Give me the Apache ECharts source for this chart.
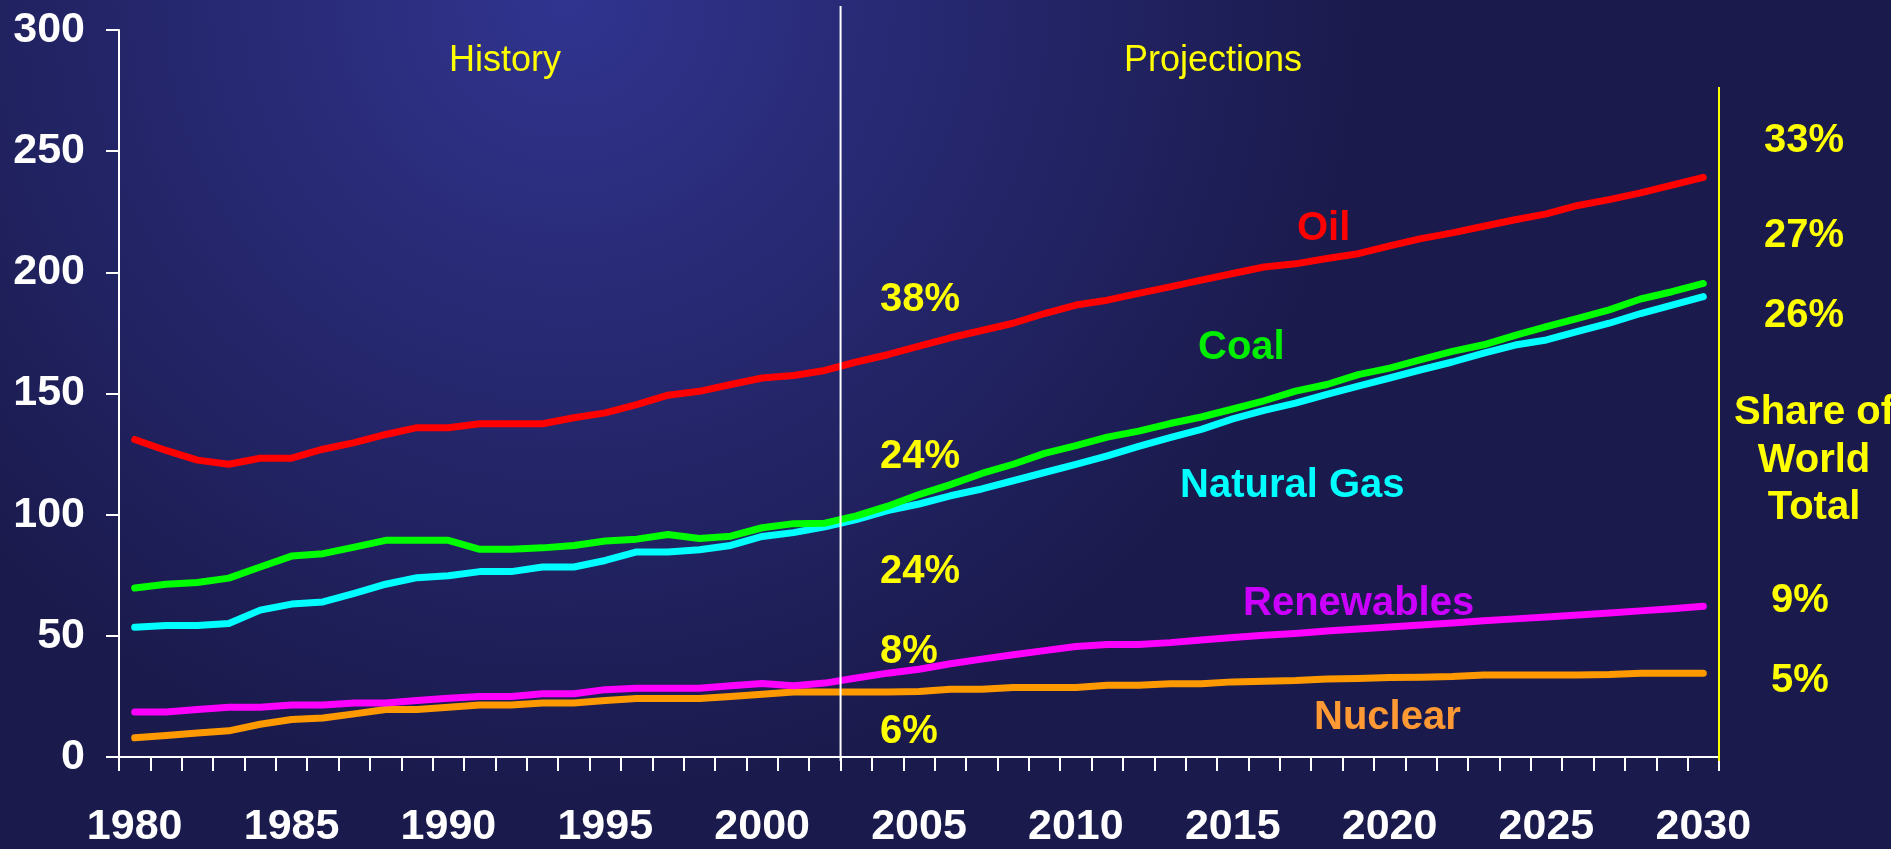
<!DOCTYPE html>
<html>
<head>
<meta charset="utf-8">
<style>
  html, body { margin: 0; padding: 0; }
  #main { width: 1891px; height: 849px; }
</style>
<script src="https://cdn.jsdelivr.net/npm/echarts@6/dist/echarts.min.js"></script>
</head>
<body>
<div id="main"></div>
<script>
// years 1980..2030
const years = []
for (let y = 1980; y <= 2030; y++) years.push(String(y))

const yTicks = [0, 50, 100, 150, 200, 250, 300]

// world energy consumption
const oil = [131, 126.5, 122.5, 120.8, 123.3, 123.3, 127, 129.7, 133.1, 135.9,
  135.9, 137.5, 137.5, 137.5, 140, 142, 145.4, 149.3, 150.9, 153.7,
  156.4, 157.4, 159.5, 163, 166, 169.5, 173, 176, 179, 183,
  186.5, 188.5, 191.3, 194, 196.8, 199.5, 202.2, 203.5, 205.7, 207.7,
  210.9, 213.9, 216.3, 219, 221.7, 224.1, 227.6, 230, 232.8, 236, 239.2]
const coal = [69.7, 71.3, 72, 73.8, 78.4, 82.9, 83.9, 86.6, 89.4, 89.4,
  89.4, 85.7, 85.7, 86.3, 87.3, 89.1, 89.9, 91.8, 90.2, 91.1,
  94.6, 96.3, 96.5, 99.5, 103.5, 108.3, 112.4, 117, 120.8, 125.3,
  128.5, 132, 134.5, 137.6, 140.3, 143.6, 147, 151, 153.7, 157.8,
  160.5, 164, 167.4, 170.1, 174, 177.6, 181, 184.5, 189, 192, 195.4]
const gas = [53.5, 54.3, 54.3, 55.1, 60.6, 63.1, 64, 67.5, 71.3, 74,
  74.8, 76.5, 76.5, 78.4, 78.4, 81.1, 84.6, 84.6, 85.5, 87.3,
  91, 92.6, 95, 98, 101.7, 104.4, 107.8, 110.6, 114, 117.4,
  120.8, 124.3, 128.2, 131.8, 135.2, 139.5, 143, 146, 149.6, 153,
  156.4, 159.8, 163, 166.7, 170, 172.1, 175.6, 179, 183, 186.5, 190]
const renewables = [18.6, 18.6, 19.6, 20.5, 20.5, 21.5, 21.5, 22.3, 22.3, 23.3,
  24.2, 25, 25, 26.1, 26.1, 27.8, 28.4, 28.4, 28.4, 29.4,
  30.3, 29.4, 30.5, 32.6, 34.6, 36.2, 38.5, 40.4, 42.2, 43.9,
  45.6, 46.4, 46.4, 47.2, 48.3, 49.3, 50.2, 51, 52, 52.8,
  53.6, 54.5, 55.3, 56.2, 57, 57.8, 58.6, 59.4, 60.3, 61.2, 62.2]
const nuclear = [7.9, 8.9, 9.9, 10.8, 13.5, 15.5, 16.1, 17.8, 19.6, 19.6,
  20.5, 21.5, 21.5, 22.3, 22.3, 23.3, 24.1, 24.1, 24.1, 25,
  25.9, 26.8, 26.8, 26.8, 26.8, 27, 28, 28, 28.7, 28.7,
  28.7, 29.6, 29.6, 30.2, 30.2, 31, 31.3, 31.6, 32.2, 32.4,
  32.8, 32.9, 33.2, 33.8, 33.8, 33.8, 33.8, 34, 34.6, 34.6, 34.6]

// shares of world total
const share2003 = ['38%', '24%', '24%', '8%', '6%']
const share2030 = ['33%', '27%', '26%', '9%', '5%']

const font = '"Liberation Sans", Arial, sans-serif'
const yellow = '#ffff00'

// plot area
const gLeft = 119, gTop = 30, gRight = 1719, gBottom = 761
const bandW = (gRight - gLeft) / years.length
const splitX = gLeft + bandW * years.indexOf('2003') // History | Projections

function txt(text, x, y, color, size, align, weight) {
  return {
    type: 'text', z: 20, x: x, y: y,
    style: {
      text: text, fill: color, textAlign: align || 'center', textVerticalAlign: 'middle',
      font: (weight || 'bold') + ' ' + size + 'px ' + font
    }
  }
}

function lineSeries(name, data, color) {
  return {
    name: name, type: 'line', data: data, symbol: 'none', smooth: false,
    lineStyle: { color: color, width: 7, cap: 'round', join: 'round' },
    emphasis: { disabled: true }
  }
}

var myChart = echarts.init(document.getElementById('main'))

var option = {
  backgroundColor: new echarts.graphic.RadialGradient(0.3, 0.0, 0.95, [
    { offset: 0, color: '#31348f' },
    { offset: 1, color: '#1a1a4c' }
  ]),
  animation: false,
  grid: { left: gLeft, top: gTop, right: 1891 - gRight, bottom: 849 - gBottom, containLabel: false },
  xAxis: {
    type: 'category', data: years, boundaryGap: true,
    axisLine: { lineStyle: { color: '#ffffff', width: 2 } },
    axisTick: { show: true, interval: 0, length: 14, lineStyle: { color: '#ffffff', width: 2 } },
    axisLabel: {
      interval: function (i) { return i % 5 === 0 },
      color: '#ffffff', fontFamily: font, fontWeight: 'bold', fontSize: 43, margin: 49
    }
  },
  yAxis: {
    type: 'value', min: yTicks[0], max: yTicks[yTicks.length - 1], interval: 50,
    axisLine: { show: true, lineStyle: { color: '#ffffff', width: 2 } },
    axisTick: { show: true, length: 13, lineStyle: { color: '#ffffff', width: 2 } },
    splitLine: { show: false },
    axisLabel: { color: '#ffffff', fontFamily: font, fontWeight: 'bold', fontSize: 43, margin: 34 }
  },
  series: [
    lineSeries('Nuclear', nuclear, '#ff9900'),
    lineSeries('Renewables', renewables, '#ff00ff'),
    lineSeries('Natural Gas', gas, '#00ffff'),
    lineSeries('Coal', coal, '#00ff00'),
    lineSeries('Oil', oil, '#ff0000')
  ],
  graphic: [
    // History / Projections divider
    { type: 'line', z: 15, shape: { x1: splitX, y1: 6, x2: splitX, y2: gBottom },
      style: { stroke: '#ffffff', lineWidth: 2 } },
    // right side yellow rule
    { type: 'line', z: 15, shape: { x1: gRight, y1: 87, x2: gRight, y2: gBottom },
      style: { stroke: yellow, lineWidth: 2 } },
    txt('History', 505, 61, yellow, 36, 'center', 'normal'),
    txt('Projections', 1213, 61, yellow, 36, 'center', 'normal'),
    // series names
    txt('Oil', 1297, 229, '#ff0000', 40, 'left'),
    txt('Coal', 1198, 348, '#00ee00', 40, 'left'),
    txt('Natural Gas', 1180, 486, '#00ffff', 40, 'left'),
    txt('Renewables', 1243, 604, '#cc00ff', 40, 'left'),
    txt('Nuclear', 1314, 718, '#ff9933', 40, 'left'),
    // shares near 2003
    txt(share2003[0], 880, 300, yellow, 40, 'left'),
    txt(share2003[1], 880, 457, yellow, 40, 'left'),
    txt(share2003[2], 880, 572, yellow, 40, 'left'),
    txt(share2003[3], 880, 652, yellow, 40, 'left'),
    txt(share2003[4], 880, 732, yellow, 40, 'left'),
    // shares in 2030
    txt(share2030[0], 1804, 141, yellow, 40),
    txt(share2030[1], 1804, 236, yellow, 40),
    txt(share2030[2], 1804, 316, yellow, 40),
    txt('Share of', 1814, 413, yellow, 40),
    txt('World', 1814, 461, yellow, 40),
    txt('Total', 1814, 508, yellow, 40),
    txt(share2030[3], 1800, 601, yellow, 40),
    txt(share2030[4], 1800, 681, yellow, 40)
  ]
}

myChart.setOption(option)
</script>
</body>
</html>
